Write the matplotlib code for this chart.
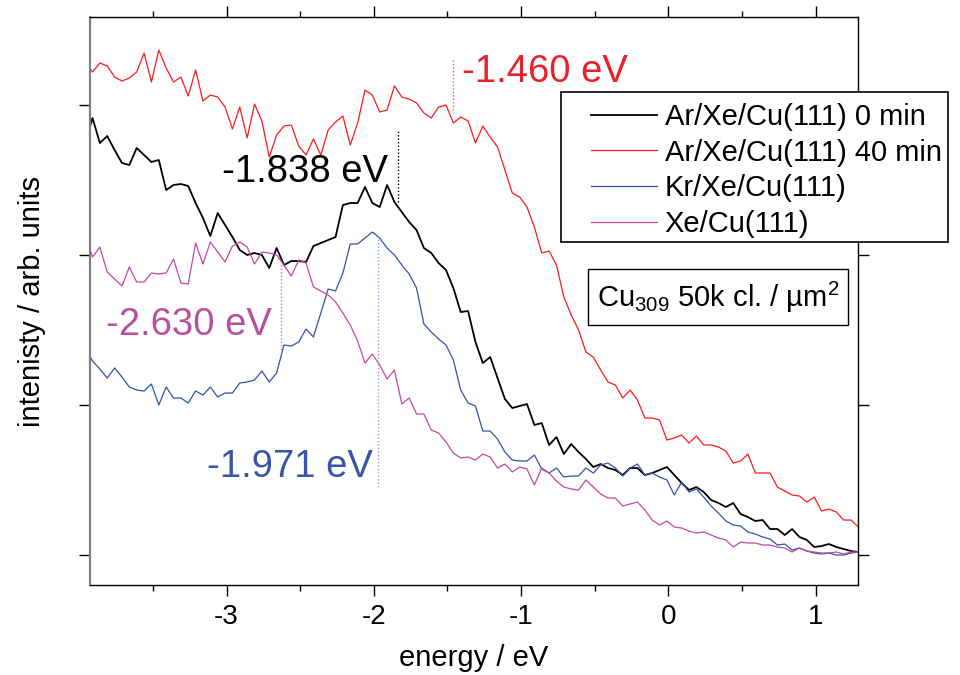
import numpy as np
import matplotlib
matplotlib.use("Agg")
import matplotlib.pyplot as plt
from matplotlib.patches import Rectangle
from matplotlib.ticker import MultipleLocator

plt.rcParams['font.family'] = ['Liberation Sans', 'DejaVu Sans']
plt.rcParams['mathtext.fontset'] = 'custom'
plt.rcParams['mathtext.rm'] = 'Liberation Sans'
plt.rcParams['mathtext.it'] = 'Liberation Sans:italic'
plt.rcParams['axes.unicode_minus'] = False

# photoemission spectra, 0.05 eV steps
energy = np.round(np.arange(-3.96, 1.295, 0.05), 2)

ar_0min = [412,
    437, 412, 419, 405, 392, 390, 407, 400, 393, 395,
    365, 370, 371, 369, 352, 337, 319, 342, 330, 318,
    305, 300, 302, 300, 287, 307, 290, 294, 294, 293,
    309, 312, 315, 318, 350, 352, 352, 368, 352, 348,
    370, 353, 343, 333, 325, 307, 302, 292, 285, 267,
    243, 244, 213, 192, 198, 177, 156, 147, 149, 151,
    130, 132, 110, 118, 101, 111, 103, 96, 88, 91,
    87, 85, 80, 87, 87, 80, 82, 85, 88, 80,
    72, 65, 68, 63, 55, 52, 48, 52, 41, 38,
    34, 35, 26, 26, 20, 26, 18, 15, 8, 9,
    11, 8, 6, 4, 3]

ar_40min = [493,
    483, 492, 489, 478, 474, 477, 483, 502, 473, 505,
    487, 473, 478, 459, 485, 454, 460, 458, 448, 426,
    448, 417, 451, 434, 398, 420, 429, 430, 409, 400,
    416, 400, 425, 433, 439, 410, 432, 465, 460, 443,
    445, 469, 458, 456, 452, 442, 437, 448, 450, 432,
    438, 434, 412, 429, 418, 408, 385, 362, 358, 348,
    328, 302, 304, 290, 258, 240, 225, 203, 198, 185,
    173, 170, 157, 165, 155, 137, 137, 135, 115, 117,
    120, 112, 119, 110, 110, 108, 104, 92, 94, 101,
    82, 82, 82, 68, 64, 60, 59, 53, 58, 44,
    46, 43, 35, 35, 28]

kr_xe = [207,
    194, 186, 177, 187, 178, 168, 165, 164, 171, 150,
    168, 157, 157, 152, 164, 160, 168, 158, 162, 162,
    172, 173, 175, 184, 173, 182, 210, 209, 213, 226,
    218, 242, 266, 264, 282, 311, 311, 317, 323, 317,
    307, 300, 290, 281, 267, 231, 223, 216, 210, 195,
    165, 152, 149, 124, 124, 116, 103, 95, 94, 94,
    100, 86, 82, 87, 78, 79, 79, 87, 82, 90,
    92, 87, 79, 87, 91, 80, 82, 78, 75, 60,
    73, 63, 66, 58, 49, 42, 34, 30, 29, 23,
    21, 18, 16, 10, 11, 5, 7, 4, 2, 1,
    2, 0, 0, 2, 3]

xe_only = [320,
    298, 308, 283, 276, 269, 288, 273, 273, 282, 281,
    282, 296, 272, 271, 312, 291, 313, 303, 293, 309,
    313, 308, 291, 303, 302, 300, 290, 279, 295, 292,
    268, 264, 260, 253, 242, 230, 214, 192, 201, 190,
    176, 185, 151, 157, 141, 141, 125, 122, 113, 102,
    97, 98, 95, 101, 98, 87, 91, 83, 88, 86,
    70, 87, 82, 74, 68, 66, 65, 75, 68, 61,
    57, 57, 49, 51, 53, 45, 35, 30, 34, 28,
    27, 24, 22, 23, 20, 17, 15, 8, 13, 12,
    12, 10, 10, 8, 7, 3, 7, 4, 3, 2,
    2, 3, 1, 3, 3]

labels = ["Ar/Xe/Cu(111) 0 min", "Ar/Xe/Cu(111) 40 min",
          "Kr/Xe/Cu(111)", "Xe/Cu(111)"]
colors = ["black", "#ff1a1a", "#3352a8", "#c04aa0"]
widths = [1.3, 0.9, 0.9, 0.9]

# fitted peak positions with marker extents and label anchors
peak_energy = [-1.460, -1.838, -1.971, -2.630]
peak_text = ["-1.460 eV", "-1.838 eV", "-1.971 eV", "-2.630 eV"]
peak_ylo = [445, 353, 68, 202]
peak_yhi = [496, 426, 322, 295]
text_x = [-1.401, -3.033, -3.134, -3.820]
text_y = [473, 373, 78, 220]
text_colors = ["#e8202a", "black", "#3a55a6", "#b8509e"]
mark_colors = ["#f06060", "black", "#8fa0e0", "#d070c0"]

fig = plt.figure(figsize=(9.6, 6.75), dpi=100)
ax = fig.add_axes([0.09375, 0.1333, 0.7995, 0.8415])

series = [ar_0min, ar_40min, kr_xe, xe_only]
handles = []
for y, lab, c, lw in zip(series, labels, colors, widths):
    h, = ax.plot(energy, y, color=c, lw=lw, label=lab)
    handles.append(h)

for e, lo, hi, c in zip(peak_energy, peak_ylo, peak_yhi, mark_colors):
    ax.plot([e, e], [lo, hi], color=c, lw=1.0, ls=(0, (1, 1.5)))

for tx, ty, s, c in zip(text_x, text_y, peak_text, text_colors):
    ax.text(tx, ty, s, color=c, fontsize=27.5, ha="left", va="baseline")

ax.set_xlim(-3.927, 1.284)
ax.set_ylim(-30, 538)
ax.xaxis.set_major_locator(MultipleLocator(1))
ax.xaxis.set_minor_locator(MultipleLocator(0.5))
ax.set_yticks([0, 150, 300, 450])
ax.tick_params(axis="x", which="major", direction="out", length=8, width=1,
               top=True, labelsize=20, pad=6)
ax.tick_params(axis="x", which="minor", direction="out", length=4, width=1, top=True)
ax.tick_params(axis="y", which="major", direction="out", length=8, width=1,
               right=True, labelleft=False)
for side in ["top", "right", "bottom"]:
    ax.spines[side].set_linewidth(1.0)
ax.spines["left"].set_color("#808080")
ax.spines["left"].set_linewidth(1.6)

ax.set_xlabel("energy / eV", fontsize=21, labelpad=10)
ax.set_ylabel("intenisty / arb. units", fontsize=21, labelpad=24)

# legend frame sits over the right spine
fig.patches.append(Rectangle((0.5844, 0.6415), 0.4031, 0.2222,
                             transform=fig.transFigure, facecolor="white",
                             edgecolor="black", lw=1.2, zorder=3))
fig.legend(handles=handles, loc="upper left", bbox_to_anchor=(591 / 960, 1 - 103 / 675),
           frameon=False, fontsize=21, borderpad=0, borderaxespad=0,
           handlelength=2.26, handletextpad=0.27, labelspacing=0.26)

# coverage box
fig.patches.append(Rectangle((0.6125, 0.5185), 0.2708, 0.083,
                             transform=fig.transFigure, facecolor="white",
                             edgecolor="black", lw=1.0, zorder=3))
fig.text(718 / 960, 1 - 297 / 675, r"Cu$_{309}$ 50k cl. / µm$^{2}$",
         fontsize=21, ha="center", va="center", zorder=4)

fig.savefig("out.png", dpi=100)
